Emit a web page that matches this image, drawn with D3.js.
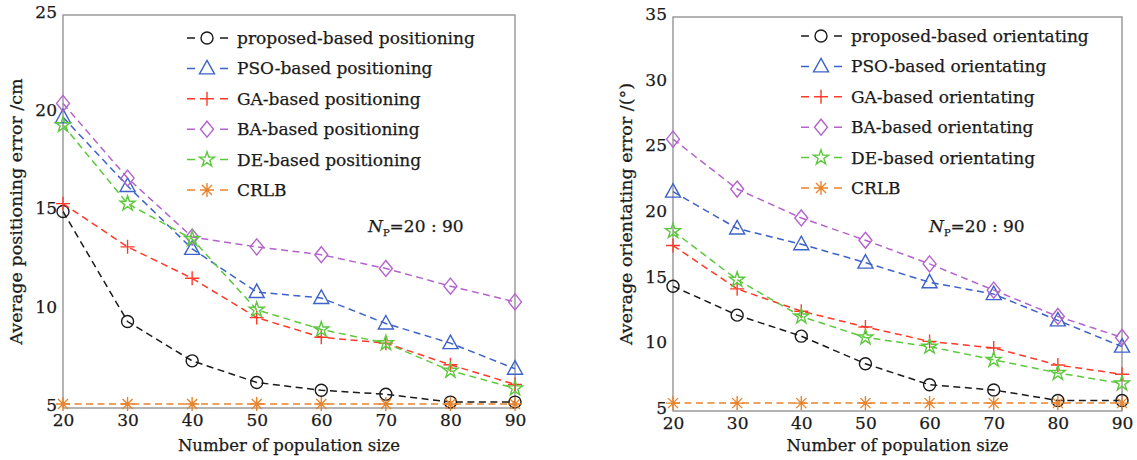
<!DOCTYPE html>
<html>
<head>
<meta charset="utf-8">
<script src="https://cdn.jsdelivr.net/npm/d3@7"></script>
<style>
  body { margin: 0; background: #fff; }
  svg text { font-family: "DejaVu Serif", "Liberation Serif", serif; fill: #1a1a1a; stroke: #1a1a1a; stroke-width: 0.25px; }
</style>
</head>
<body>
<svg id="chart" width="1137" height="460"></svg>
<script>
// population sizes shared by both panels
var popSizes = [20, 30, 40, 50, 60, 70, 80, 90];

// left panel: positioning error (cm)
var posProposed = [15.0, 9.4, 7.4, 6.3, 5.9, 5.7, 5.3, 5.3];
var posPSO      = [19.8, 16.3, 13.1, 10.9, 10.6, 9.3, 8.3, 7.0];
var posGA       = [15.4, 13.2, 11.6, 9.6, 8.6, 8.3, 7.2, 6.2];
var posBA       = [20.5, 16.7, 13.7, 13.2, 12.8, 12.1, 11.2, 10.4];
var posDE       = [19.4, 15.4, 13.6, 10.0, 9.0, 8.3, 6.9, 6.0];
var posCRLB     = [5.2, 5.2, 5.2, 5.2, 5.2, 5.2, 5.2, 5.2];

// right panel: orientating error (degrees)
var oriProposed = [14.5, 12.3, 10.7, 8.6, 7.0, 6.6, 5.8, 5.8];
var oriPSO      = [21.7, 18.9, 17.7, 16.3, 14.8, 13.9, 11.9, 9.9];
var oriGA       = [17.6, 14.3, 12.6, 11.4, 10.3, 9.8, 8.5, 7.8];
var oriBA       = [25.7, 21.9, 19.7, 18.0, 16.2, 14.2, 12.2, 10.6];
var oriDE       = [18.7, 15.0, 12.2, 10.6, 9.9, 8.9, 7.9, 7.1];
var oriCRLB     = [5.6, 5.6, 5.6, 5.6, 5.6, 5.6, 5.6, 5.6];

var posNames = ["proposed-based positioning", "PSO-based positioning", "GA-based positioning",
                "BA-based positioning", "DE-based positioning", "CRLB"];
var oriNames = ["proposed-based orientating", "PSO-based orientating", "GA-based orientating",
                "BA-based orientating", "DE-based orientating", "CRLB"];

var posTicks = [5, 10, 15, 20, 25];
var oriTicks = [5, 10, 15, 20, 25, 30, 35];

var colors  = ["#1a1a1a", "#3d62c8", "#ff3a2a", "#b463cc", "#5cc83c", "#e8842c"];
var markers = ["circle", "triangle", "plus", "diamond", "star", "asterisk"];

var svg = d3.select("#chart");

// marker shapes (MATLAB style, hollow)
function markerPath(type) {
  var p = d3.path();
  if (type == "circle") {
    p.moveTo(6, 0); p.arc(0, 0, 6, 0, 2 * Math.PI);
  } else if (type == "triangle") {
    p.moveTo(0, -8); p.lineTo(7.5, 5.5); p.lineTo(-7.5, 5.5); p.closePath();
  } else if (type == "plus") {
    p.moveTo(-7, 0); p.lineTo(7, 0); p.moveTo(0, -7); p.lineTo(0, 7);
  } else if (type == "diamond") {
    p.moveTo(0, -8); p.lineTo(6.5, 0); p.lineTo(0, 8); p.lineTo(-6.5, 0); p.closePath();
  } else if (type == "asterisk") {
    p.moveTo(-7, 0); p.lineTo(7, 0); p.moveTo(0, -7); p.lineTo(0, 7);
    p.moveTo(-5, -5); p.lineTo(5, 5); p.moveTo(-5, 5); p.lineTo(5, -5);
  } else if (type == "star") {
    return d3.symbol().type(d3.symbolStar).size(70)();
  }
  return p.toString();
}

function drawPanel(cfg) {
  var x = d3.scaleLinear().domain([20, 90]).range(cfg.xRange);
  var y = d3.scaleLinear().domain(cfg.yDomain).range(cfg.yRange);
  var g = svg.append("g");

  // box
  g.append("rect")
    .attr("x", cfg.xRange[0]).attr("y", cfg.yRange[1])
    .attr("width", cfg.xRange[1] - cfg.xRange[0])
    .attr("height", cfg.yRange[0] - cfg.yRange[1])
    .attr("fill", "none").attr("stroke", "#8c8c8c").attr("stroke-width", 1.3);

  // tick labels
  var xAxis = d3.axisBottom(x).tickValues(popSizes).tickSize(0).tickPadding(6);
  g.append("g").attr("transform", "translate(0," + cfg.yRange[0] + ")").call(xAxis)
    .call(function(s) { s.select(".domain").remove(); })
    .selectAll("text").style("font-size", "17px").attr("fill", "#1a1a1a");

  var yAxis = d3.axisLeft(y).tickValues(cfg.yTicks).tickSize(0).tickPadding(6);
  g.append("g").attr("transform", "translate(" + cfg.xRange[0] + ",-3)").call(yAxis)
    .call(function(s) { s.select(".domain").remove(); })
    .selectAll("text").style("font-size", "17px").attr("fill", "#1a1a1a");

  // series
  var line = d3.line().x(function(d, i) { return x(popSizes[i]); }).y(function(d) { return y(d); });
  cfg.series.forEach(function(vals, k) {
    g.append("path").datum(vals)
      .attr("d", line)
      .attr("fill", "none").attr("stroke", colors[k])
      .attr("stroke-width", 1.5).attr("stroke-dasharray", "7,4.5");
    g.selectAll(".m" + k).data(vals).enter().append("path")
      .attr("class", "m" + k)
      .attr("transform", function(d, i) { return "translate(" + x(popSizes[i]) + "," + y(d) + ")"; })
      .attr("d", markerPath(markers[k]))
      .attr("fill", "none").attr("stroke", colors[k]).attr("stroke-width", 1.4);
  });

  // legend
  cfg.names.forEach(function(name, k) {
    var ly = cfg.legend[1] + k * 30.4;
    var lx = cfg.legend[0];
    g.append("line").attr("x1", lx).attr("x2", lx + 41).attr("y1", ly).attr("y2", ly)
      .attr("stroke", colors[k]).attr("stroke-width", 1.5).attr("stroke-dasharray", "8,25");
    g.append("path").attr("transform", "translate(" + (lx + 20) + "," + ly + ")")
      .attr("d", markerPath(markers[k]))
      .attr("fill", "none").attr("stroke", colors[k]).attr("stroke-width", 1.4);
    g.append("text").attr("x", lx + 50).attr("y", ly + 6)
      .style("font-size", "17px").text(name);
  });

  // N_P annotation
  var t = g.append("text").attr("x", cfg.np[0]).attr("y", cfg.np[1]).style("font-size", "17px");
  t.append("tspan").style("font-style", "italic").text("N");
  t.append("tspan").attr("dy", 4).style("font-size", "10px").text("P");
  t.append("tspan").attr("dy", -4).text("=20 : 90");

  // axis titles
  g.append("text")
    .attr("x", (cfg.xRange[0] + cfg.xRange[1]) / 2).attr("y", 451)
    .attr("text-anchor", "middle").style("font-size", "16.5px")
    .text("Number of population size");
  g.append("text")
    .attr("transform", "translate(" + cfg.yTitleX + "," + ((cfg.yRange[0] + cfg.yRange[1]) / 2) + ") rotate(-90)")
    .attr("text-anchor", "middle").style("font-size", "17.5px")
    .text(cfg.yTitle);
}

drawPanel({
  xRange: [63, 515], yDomain: [5, 25], yRange: [408, 15], yTicks: posTicks,
  series: [posProposed, posPSO, posGA, posBA, posDE, posCRLB], names: posNames,
  legend: [187, 38], np: [368, 232], yTitleX: 22,
  yTitle: "Average positioning error /cm"
});

drawPanel({
  xRange: [673, 1122], yDomain: [5, 35], yRange: [411, 17], yTicks: oriTicks,
  series: [oriProposed, oriPSO, oriGA, oriBA, oriDE, oriCRLB], names: oriNames,
  legend: [801, 36], np: [929, 232], yTitleX: 632,
  yTitle: "Average orientating error /(\u00B0)"
});
</script>
</body>
</html>
